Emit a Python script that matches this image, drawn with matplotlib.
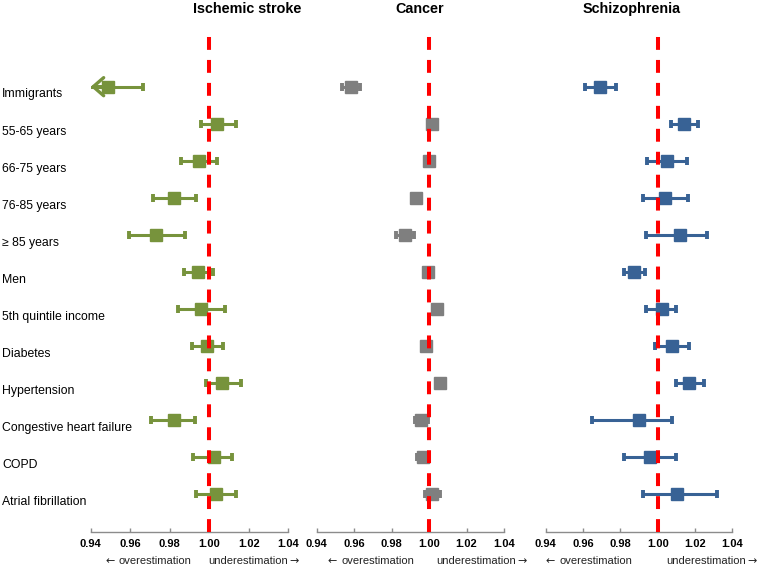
import numpy as np
import matplotlib
matplotlib.use("Agg")
import matplotlib.pyplot as plt
from matplotlib.transforms import blended_transform_factory

plt.rcParams['font.family'] = ['Liberation Sans', 'DejaVu Sans']

labels = ["Immigrants", "55-65 years", "66-75 years", "76-85 years", "\u2265 85 years", "Men",
          "5th quintile income", "Diabetes", "Hypertension", "Congestive heart failure",
          "COPD", "Atrial fibrillation"]

# ischemic stroke (lower CI of immigrants falls off the chart)
stroke_est = [0.9490, 1.0041, 0.9947, 0.9820, 0.9730, 0.9943, 0.9960, 0.9989, 1.0066, 0.9820, 1.0026, 1.0036]
stroke_lo = [0.9300, 0.9957, 0.9857, 0.9715, 0.9595, 0.9871, 0.9840, 0.9913, 0.9983, 0.9704, 0.9916, 0.9934]
stroke_hi = [0.9666, 1.0135, 1.0038, 0.9933, 0.9879, 1.0020, 1.0081, 1.0068, 1.0159, 0.9928, 1.0113, 1.0134]

cancer_est = [0.9584, 1.0014, 0.9997, 0.9929, 0.9873, 0.9992, 1.0043, 0.9985, 1.0057, 0.9959, 0.9965, 1.0018]
cancer_lo = [0.9537, 0.9995, 0.9978, 0.9910, 0.9825, 0.9973, 1.0024, 0.9966, 1.0038, 0.9923, 0.9935, 0.9978]
cancer_hi = [0.9631, 1.0033, 1.0016, 0.9948, 0.9921, 1.0011, 1.0062, 1.0004, 1.0076, 0.9995, 0.9995, 1.0058]

schizo_est = [0.9693, 1.0143, 1.0052, 1.0039, 1.0118, 0.9873, 1.0022, 1.0075, 1.0170, 0.9900, 0.9961, 1.0105]
schizo_lo = [0.9611, 1.0070, 0.9945, 0.9923, 0.9936, 0.9818, 0.9936, 0.9986, 1.0098, 0.9647, 0.9818, 0.9920]
schizo_hi = [0.9775, 1.0215, 1.0156, 1.0164, 1.0266, 0.9932, 1.0098, 1.0168, 1.0247, 1.0078, 1.0098, 1.0316]

xticks = [0.94, 0.96, 0.98, 1.00, 1.02, 1.04]

panels = [
    ("Ischemic stroke", stroke_est, stroke_lo, stroke_hi, "#77933C", 8.5),
    ("Cancer", cancer_est, cancer_lo, cancer_hi, "#7F7F7F", 9.0),
    ("Schizophrenia", schizo_est, schizo_lo, schizo_hi, "#386295", 8.5),
]

W, H = 761, 569
fig = plt.figure(figsize=(W / 100, H / 100), dpi=100)

# axes boxes in pixels: left, width
boxes = [(90.7, 197.6), (316.7, 187.3), (545.7, 186.6)]
top_px, bottom_px = 27.0, 532.3
title_x = [247, 420, 632]
over_x = [106, 328, 546]
under_x = [299, 527, 757]
note_y = 1 - 561 / H

rows = np.arange(len(labels))
axes = []
for i, (title, est, lo, hi, color, ms) in enumerate(panels):
    x0, w = boxes[i]
    ax = fig.add_axes([x0 / W, 1 - bottom_px / H, w / W, (bottom_px - top_px) / H])
    est = np.array(est)
    err = np.vstack([est - np.array(lo), np.array(hi) - est])
    ax.errorbar(est, rows, xerr=err, fmt="s", color=color, ms=ms, mec=color, mfc=color,
                elinewidth=2.2, capsize=2.6, capthick=2.8, zorder=3)
    ax.axvline(1.0, color="#FF0000", lw=2.9, dashes=(3.2, 2.5), zorder=5)
    ax.set_xlim(0.94, 1.04)
    ax.set_ylim(len(labels) + 0.02, -1.61)
    ax.set_xticks(xticks)
    ax.set_xticklabels([f"{t:.2f}" for t in xticks], fontweight="bold", fontsize=8)
    ax.set_yticks([])
    for s in ["left", "right", "top"]:
        ax.spines[s].set_visible(False)
    ax.spines["bottom"].set_color("#8C8C8C")
    ax.spines["bottom"].set_linewidth(1.0)
    ax.tick_params(axis="x", direction="in", length=3, width=1, color="#8C8C8C", pad=4.5)

    fig.text(title_x[i] / W, 1 - 9 / H, title, ha="center", va="center",
             fontsize=10.4, fontweight="bold")
    # arrows in DejaVu Sans, which draws them wider than Liberation Sans
    fig.text(over_x[i] / W, note_y, "\u2190", ha="left", va="center",
             fontsize=8, family="DejaVu Sans", color="#222222")
    fig.text((over_x[i] + 13) / W, note_y, "overestimation", ha="left", va="center",
             fontsize=8, color="#222222")
    fig.text(under_x[i] / W, note_y, "\u2192", ha="right", va="center",
             fontsize=8, family="DejaVu Sans", color="#222222")
    fig.text((under_x[i] - 11) / W, note_y, "underestimation", ha="right", va="center",
             fontsize=8, color="#222222")
    axes.append(ax)

# arrow for the CI running off the left edge (immigrants, ischemic stroke)
ax0 = axes[0]
for r, (e, l) in enumerate(zip(stroke_est, stroke_lo)):
    if l < ax0.get_xlim()[0]:
        ax0.annotate("", xy=(ax0.get_xlim()[0], r), xytext=(e, r),
                     arrowprops=dict(arrowstyle="->, head_length=0.75, head_width=0.65",
                                     color="#77933C", lw=2.4, shrinkA=0, shrinkB=0),
                     annotation_clip=False, zorder=4)

trans = blended_transform_factory(fig.transFigure, ax0.transData)
for r, lab in enumerate(labels):
    ax0.text(2 / W, r + 0.21, lab, transform=trans, ha="left", va="center",
             fontsize=8.8, clip_on=False)

fig.savefig("out.png", dpi=100)
